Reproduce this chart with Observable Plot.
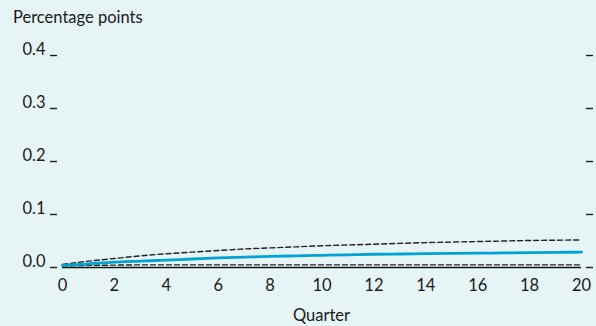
<!DOCTYPE html>
<html>
<head>
<meta charset="utf-8">
<script src="https://cdn.jsdelivr.net/npm/d3@7"></script>
<script src="https://cdn.jsdelivr.net/npm/@observablehq/plot@0.6"></script>
<style>
  html, body { margin: 0; padding: 0; background: #e6f4f6; }
  #wrap { position: relative; width: 596px; height: 326px; background: #e6f4f6; font-family: Lato, "Open Sans", sans-serif; color: #1a1a1a; }
  #title { position: absolute; left: 13px; top: 8px; font-size: 16.5px; line-height: 18px; }
  #xlabel { position: absolute; left: 62px; width: 519px; text-align: center; top: 306px; font-size: 16.5px; line-height: 18px; }
  svg { position: absolute; left: 0; top: 0; }
</style>
</head>
<body>
<div id="wrap">
  <div id="chart"></div>
  <div id="title">Percentage points</div>
  <div id="xlabel">Quarter</div>
</div>
<script>
const quarters = [0,1,2,3,4,5,6,7,8,9,10,11,12,13,14,15,16,17,18,19,20];
const central = [0.004,0.007,0.010,0.012,0.014,0.016,0.018,0.0195,0.021,0.022,0.023,0.024,0.025,0.0255,0.026,0.0265,0.027,0.0275,0.028,0.0285,0.029];
const upper   = [0.006,0.012,0.017,0.022,0.026,0.029,0.032,0.035,0.037,0.039,0.041,0.0425,0.044,0.0455,0.047,0.048,0.049,0.050,0.051,0.0515,0.052];
const lower   = [0.003,0.004,0.0045,0.005,0.005,0.005,0.005,0.005,0.005,0.005,0.005,0.005,0.005,0.005,0.005,0.005,0.005,0.005,0.005,0.005,0.005];
const yTicks = [0, 0.1, 0.2, 0.3, 0.4];
const xTicks = [0,2,4,6,8,10,12,14,16,18,20];

const rows = quarters.map((q, i) => ({q, central: central[i], upper: upper[i], lower: lower[i]}));

const chart = Plot.plot({
  width: 596,
  height: 326,
  marginLeft: 62,
  marginRight: 15,
  marginTop: 55,
  marginBottom: 59,
  style: {background: "transparent", fontFamily: "Lato, 'Open Sans', sans-serif", fontSize: "16.5px", color: "#1a1a1a"},
  x: {domain: [0, 20]},
  y: {domain: [0, 0.4]},
  marks: [
    Plot.axisY({ticks: yTicks, tickSize: 7, dx: -5, tickFormat: () => "", label: null, strokeWidth: 1.4}),
    Plot.axisY({ticks: yTicks, tickSize: 0, dx: -8, dy: -6, tickFormat: d3.format(".1f"), label: null, fontSize: 16.5, textAnchor: "end"}),
    Plot.axisY({anchor: "right", ticks: yTicks, tickSize: 7, dx: 4, tickFormat: () => "", label: null, strokeWidth: 1.4}),
    Plot.axisX({ticks: xTicks, tickSize: 0, tickPadding: 12, label: null, fontSize: 16.5}),
    Plot.ruleY([0], {stroke: "#111", strokeWidth: 1.6}),
    Plot.line(rows, {x: "q", y: "lower", stroke: "#222", strokeWidth: 1.4, strokeDasharray: "5,3"}),
    Plot.line(rows, {x: "q", y: "upper", stroke: "#222", strokeWidth: 1.4, strokeDasharray: "5,3"}),
    Plot.line(rows, {x: "q", y: "central", stroke: "#00a3d4", strokeWidth: 2.8, curve: "monotone-x"})
  ]
});
document.getElementById("chart").appendChild(chart);
</script>
</body>
</html>
